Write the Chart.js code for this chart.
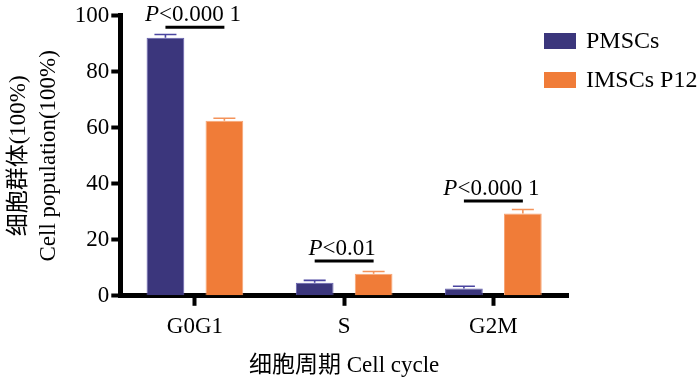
<!DOCTYPE html>
<html>
<head>
<meta charset="utf-8">
<script src="https://cdn.jsdelivr.net/npm/chart.js@4"></script>
<style>
  html, body { margin: 0; padding: 0; background: #fff; }
  #wrap { width: 700px; height: 377px; }
</style>
</head>
<body>
<div id="wrap"><canvas id="c" width="700" height="377"></canvas></div>
<script>
const categories = ['G0G1', 'S', 'G2M'];
const seriesNames = ['PMSCs', 'IMSCs P12'];
const pmscsValues = [92.2, 4.7, 2.6];
const pmscsErrors = [1.1, 0.8, 0.8];
const imscsValues = [62.5, 7.9, 29.4];
const imscsErrors = [0.9, 0.8, 1.4];
const sigTexts = ['<0.000 1', '<0.01', '<0.000 1'];
const sigLevels = [95.9, 12.4, 33.9];
const yTicks = [0, 20, 40, 60, 80, 100];

const SERIF = "'Liberation Serif', 'Times New Roman', 'Noto Sans CJK SC', serif";
const PURPLE = '#3B367C';
const ORANGE = '#F07C38';

const errorPlugin = {
  id: 'errorBars',
  afterDatasetsDraw(chart) {
    const ctx = chart.ctx;
    const y = chart.scales.y;
    const errs = [pmscsErrors, imscsErrors];
    const cols = ['#4A45A0', '#F4935A'];
    chart.data.datasets.forEach((ds, di) => {
      const meta = chart.getDatasetMeta(di);
      meta.data.forEach((bar, i) => {
        const top = y.getPixelForValue(ds.data[i]);
        const cap = y.getPixelForValue(ds.data[i] + errs[di][i]);
        ctx.save();
        ctx.strokeStyle = cols[di];
        ctx.lineWidth = 1.6;
        ctx.beginPath();
        ctx.moveTo(bar.x, top);
        ctx.lineTo(bar.x, cap);
        ctx.moveTo(bar.x - 11, cap);
        ctx.lineTo(bar.x + 11, cap);
        ctx.stroke();
        ctx.restore();
      });
    });
  }
};

const sigPlugin = {
  id: 'significance',
  afterDraw(chart) {
    const ctx = chart.ctx;
    const y = chart.scales.y;
    const m0 = chart.getDatasetMeta(0), m1 = chart.getDatasetMeta(1);
    categories.forEach((c, i) => {
      const x1 = m0.data[i].x, x2 = m1.data[i].x;
      const ly = y.getPixelForValue(sigLevels[i]);
      ctx.save();
      ctx.strokeStyle = '#000';
      ctx.lineWidth = 3;
      ctx.beginPath();
      ctx.moveTo(x1, ly);
      ctx.lineTo(x2, ly);
      ctx.stroke();
      ctx.fillStyle = '#000';
      ctx.textBaseline = 'alphabetic';
      ctx.font = 'italic 23px ' + SERIF;
      const wP = ctx.measureText('P').width;
      ctx.font = '23px ' + SERIF;
      const wR = ctx.measureText(sigTexts[i]).width;
      const cx = (x1 + x2) / 2 - 2;
      let sx = cx - (wP + wR) / 2;
      const by = ly - 6;
      ctx.font = 'italic 23px ' + SERIF;
      ctx.fillText('P', sx, by);
      ctx.font = '23px ' + SERIF;
      ctx.fillText(sigTexts[i], sx + wP, by);
      ctx.restore();
    });
  }
};

const legendPlugin = {
  id: 'customLegend',
  afterDraw(chart) {
    const ctx = chart.ctx;
    const items = [
      { label: seriesNames[0], color: PURPLE, top: 33 },
      { label: seriesNames[1], color: ORANGE, top: 72 }
    ];
    ctx.save();
    ctx.font = '24px ' + SERIF;
    ctx.textBaseline = 'middle';
    items.forEach(it => {
      ctx.fillStyle = it.color;
      ctx.fillRect(544, it.top, 32, 16);
      ctx.fillStyle = '#000';
      ctx.fillText(it.label, 586, it.top + 9);
    });
    ctx.restore();
  }
};

new Chart(document.getElementById('c'), {
  type: 'bar',
  data: {
    labels: categories,
    datasets: [
      { label: seriesNames[0], data: pmscsValues, backgroundColor: PURPLE, borderColor: '#6560B0', borderWidth: 1, borderSkipped: 'bottom' },
      { label: seriesNames[1], data: imscsValues, backgroundColor: ORANGE, borderColor: '#F7A575', borderWidth: 1, borderSkipped: 'bottom' }
    ]
  },
  options: {
    responsive: false,
    animation: false,
    devicePixelRatio: 1,
    layout: { padding: { left: 4, right: 132, top: -7, bottom: -3 } },
    datasets: { bar: { categoryPercentage: 0.79, barPercentage: 0.64 } },
    plugins: {
      legend: { display: false },
      tooltip: { enabled: false }
    },
    scales: {
      x: {
        z: 1,
        grid: { display: true, offset: false, drawOnChartArea: false, drawTicks: true, tickLength: 10, tickWidth: 4, tickColor: '#000' },
        border: { display: true, color: '#000', width: 5 },
        ticks: { color: '#000', font: { family: SERIF, size: 23 }, padding: 7 },
        title: { display: true, text: '细胞周期 Cell cycle', color: '#000', font: { family: SERIF, size: 23 }, padding: { top: 5, bottom: 0 } }
      },
      y: {
        z: 1,
        min: 0, max: 100,
        afterBuildTicks(scale) { scale.ticks = yTicks.map(v => ({ value: v })); },
        grid: { display: true, drawOnChartArea: false, drawTicks: true, tickLength: 9, tickWidth: 4, tickColor: '#000' },
        border: { display: true, color: '#000', width: 5 },
        ticks: { color: '#000', font: { family: SERIF, size: 23 }, padding: 2 },
        title: { display: true, text: ['细胞群体(100%)', 'Cell population(100%)'], color: '#000', font: { family: SERIF, size: 23, lineHeight: 1.3 }, padding: { top: 0, bottom: 9 } }
      }
    }
  },
  plugins: [errorPlugin, sigPlugin, legendPlugin]
});
</script>
</body>
</html>
